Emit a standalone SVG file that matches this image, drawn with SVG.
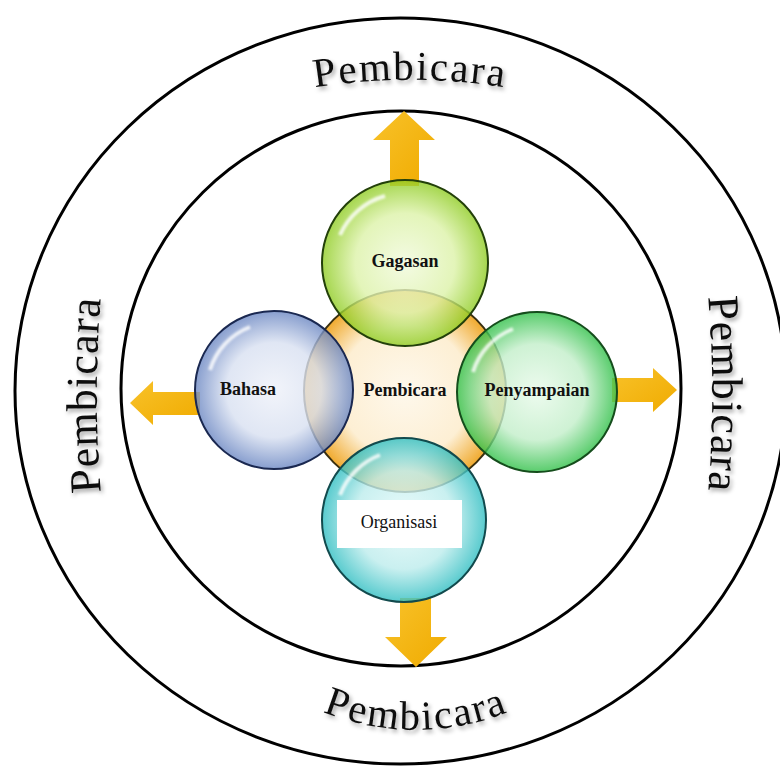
<svg xmlns="http://www.w3.org/2000/svg" width="780" height="767" viewBox="0 0 780 767">
<style>
.ring{fill:none;stroke:#000;stroke-width:3}
.big{font-family:"Liberation Serif","Times New Roman",serif;fill:#111;filter:url(#sh)}
.lbl{font-family:"Liberation Serif","Times New Roman",serif;font-weight:bold;font-size:18px;fill:#111;text-anchor:middle}
.arrow{fill:url(#gold)}
.hl{fill:none;stroke:#fff;stroke-width:4;opacity:0.8;filter:url(#blur)}
</style>
<defs>
<filter id="sh" x="-20%" y="-20%" width="140%" height="160%"><feDropShadow dx="2" dy="3" stdDeviation="2" flood-color="#000" flood-opacity="0.35"/></filter>
<filter id="blur"><feGaussianBlur stdDeviation="1.2"/></filter>
<linearGradient id="gold" x1="0" y1="0" x2="1" y2="1"><stop offset="0" stop-color="#f8c22a"/><stop offset="1" stop-color="#f0ab00"/></linearGradient>
<radialGradient id="gC" cx="50%" cy="50%" r="50%"><stop offset="0" stop-color="#fef8ec"/><stop offset="0.65" stop-color="#fdefd4"/><stop offset="1" stop-color="#f0aa2e"/></radialGradient>
<radialGradient id="gG" cx="50%" cy="50%" r="50%"><stop offset="0" stop-color="#f1fadc"/><stop offset="0.6" stop-color="#dcf2a8"/><stop offset="1" stop-color="#8fcc22"/></radialGradient>
<radialGradient id="gB" cx="50%" cy="50%" r="50%"><stop offset="0" stop-color="#eef1f9"/><stop offset="0.6" stop-color="#d8e0f1"/><stop offset="1" stop-color="#6a86c2"/></radialGradient>
<radialGradient id="gP" cx="50%" cy="50%" r="50%"><stop offset="0" stop-color="#e8faea"/><stop offset="0.6" stop-color="#c2eec9"/><stop offset="1" stop-color="#30c048"/></radialGradient>
<radialGradient id="gO" cx="50%" cy="50%" r="50%"><stop offset="0" stop-color="#e6fafa"/><stop offset="0.6" stop-color="#bcecec"/><stop offset="1" stop-color="#2fbec2"/></radialGradient>
<path id="pTop" d="M 290 92 A 600 600 0 0 1 530 92"/>
<path id="pBot" d="M 296 699 A 250 250 0 0 0 536 699"/>
<path id="pLeft" d="M 101 495 A 1200 1200 0 0 1 101 295"/>
<path id="pRight" d="M 708 294 A 1200 1200 0 0 1 708 494"/>
</defs>
<rect width="780" height="767" fill="#fff"/>
<g id="outer-ring"><ellipse class="ring" cx="400.5" cy="391" rx="385.5" ry="373"/></g>
<g id="inner-ring"><ellipse class="ring" cx="401" cy="388.5" rx="280" ry="277.5"/></g>
<g id="outer-labels">
<text class="big" font-size="41" letter-spacing="2" text-anchor="middle"><textPath href="#pTop" startOffset="50%">Pembicara</textPath></text>
<text class="big" font-size="41" letter-spacing="2" text-anchor="middle"><textPath href="#pBot" startOffset="50%">Pembicara</textPath></text>
<text class="big" font-size="44" letter-spacing="1" text-anchor="middle"><textPath href="#pLeft" startOffset="50%">Pembicara</textPath></text>
<text class="big" font-size="44" letter-spacing="1" text-anchor="middle"><textPath href="#pRight" startOffset="50%">Pembicara</textPath></text>
</g>
<g id="connectors">
<polygon class="arrow" points="404,111 435,140 419,140 419,186 390,186 390,140 373,140"/>
<polygon class="arrow" points="400,598 431,598 431,637 447,637 416,667 385,637 400,637"/>
<polygon class="arrow" points="130,403 153,381 153,392 200,392 200,415 153,415 153,425"/>
<polygon class="arrow" points="612,378 653,378 653,368 677,390 653,412 653,402 612,402"/>
</g>
<g id="node-pembicara">
<circle cx="405" cy="391" r="101" fill="url(#gC)" stroke="#3a3010" stroke-width="2"/>
<text class="lbl" x="405" y="396">Pembicara</text>
</g>
<g id="node-gagasan">
<circle cx="405" cy="263" r="83" fill="url(#gG)" fill-opacity="0.8" stroke="#23400a" stroke-width="2"/>
<path class="hl" d="M 340 235 A 70 70 0 0 1 385 196"/>
<text class="lbl" x="405" y="267">Gagasan</text>
</g>
<g id="node-bahasa">
<circle cx="274" cy="390" r="79" fill="url(#gB)" fill-opacity="0.8" stroke="#1a2850" stroke-width="2"/>
<path class="hl" d="M 210 370 A 67 67 0 0 1 250 327"/>
<text class="lbl" x="248" y="395">Bahasa</text>
</g>
<g id="node-penyampaian">
<circle cx="537" cy="392" r="80" fill="url(#gP)" fill-opacity="0.8" stroke="#154d1c" stroke-width="2"/>
<path class="hl" d="M 473 372 A 67 67 0 0 1 513 329"/>
<text class="lbl" x="537" y="396">Penyampaian</text>
</g>
<g id="node-organisasi">
<circle cx="404" cy="520" r="82" fill="url(#gO)" fill-opacity="0.8" stroke="#124a4d" stroke-width="2"/>
<path class="hl" d="M 340 495 A 69 69 0 0 1 380 455"/>
<rect x="337" y="500" width="125" height="48" fill="#fff"/>
<text x="399" y="528" font-family="'Liberation Serif','Times New Roman',serif" font-size="18" fill="#111" text-anchor="middle">Organisasi</text>
</g>
</svg>
